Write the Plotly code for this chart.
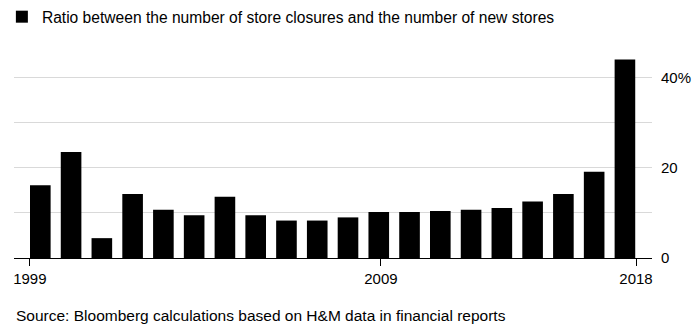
import plotly.graph_objects as go

years = list(range(1999, 2019))
ratio = [16.1, 23.5, 4.4, 14.2, 10.7, 9.5, 13.6, 9.5, 8.3, 8.3,
         9.0, 10.2, 10.2, 10.4, 10.7, 11.1, 12.5, 14.2, 19.1, 44.0]
x_tick_labels = ["1999", "2009", "2018"]
x_tick_pos = [1998.66, 2010.07, 2018.36]
y_tick_vals = [0, 10, 20, 30, 40]
y_tick_text = ["0", "", "20", "", "40%"]

FONT = "Liberation Sans, Arial, Helvetica, sans-serif"

fig = go.Figure()
fig.add_trace(go.Bar(
    x=years, y=ratio, name="Ratio between the number of store closures and the number of new stores",
    marker=dict(color="#000000", line=dict(width=0)),
    width=0.67, showlegend=True,
))

fig.update_layout(
    width=700, height=336,
    margin=dict(l=14, r=48, t=54.6, b=78, autoexpand=False),
    paper_bgcolor="white", plot_bgcolor="white",
    font=dict(family=FONT, size=15, color="#000000"),
    showlegend=True,
    legend=dict(x=-0.019, y=1.187, xanchor="left", yanchor="middle",
                orientation="h", font=dict(size=15.6, family=FONT),
                bgcolor="rgba(0,0,0,0)", itemclick=False),
    xaxis=dict(
        range=[1998.145, 2018.88], showgrid=False, zeroline=False,
        tickmode="array", tickvals=x_tick_pos, ticktext=x_tick_labels,
        ticks="outside", ticklen=7, tickcolor="#000000", tickwidth=1,
        showline=True, linecolor="#000000", linewidth=1,
        tickfont=dict(size=15, family=FONT),
    ),
    yaxis=dict(
        range=[0, 45], side="right",
        tickmode="array", tickvals=y_tick_vals, ticktext=y_tick_text,
        showgrid=True, gridcolor="#d9d9d9", gridwidth=1,
        zeroline=False, showline=False, ticks="",
        ticklabelstandoff=8,
        tickfont=dict(size=15, family=FONT),
    ),
    annotations=[dict(
        text="Source: Bloomberg calculations based on H&M data in financial reports",
        xref="paper", yref="paper", x=-0.0, y=-0.285,
        xanchor="left", yanchor="middle", showarrow=False,
        font=dict(size=15.5, family=FONT, color="#000000"),
    )],
)

fig.write_html("out.html")
